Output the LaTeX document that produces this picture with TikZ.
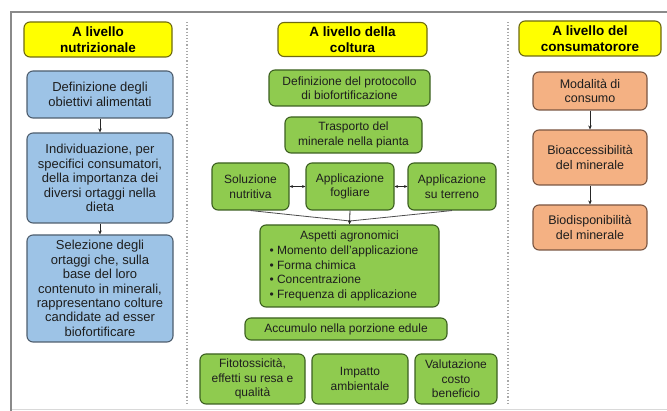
\documentclass[tikz,border=0pt]{standalone}
\usepackage{fontspec}
\setmainfont{Liberation Sans}
\usetikzlibrary{arrows.meta}
\definecolor{hdrfill}{HTML}{FFFF00}
\definecolor{hdrdraw}{HTML}{6E6A10}
\definecolor{bluefill}{HTML}{9DC3E6}
\definecolor{bluedraw}{HTML}{4E5E6E}
\definecolor{greenfill}{HTML}{8FCB4F}
\definecolor{greendraw}{HTML}{3C6020}
\definecolor{salmonfill}{HTML}{F4B183}
\definecolor{salmondraw}{HTML}{7A5642}
\definecolor{framegray}{HTML}{8A8A8A}
\definecolor{sepgray}{HTML}{A8A8A8}
\definecolor{txt}{HTML}{1E1E1E}
\tikzset{
  box/.style={draw, rounded corners=6pt, line width=1.1pt, align=center, inner sep=2pt, text=txt,
    font=\fontsize{12}{14.5}\selectfont},
  hdrbox/.style={box, fill=hdrfill, draw=hdrdraw, text=black, font=\bfseries\fontsize{13.5}{16.5}\selectfont},
  bluebox/.style={box, fill=bluefill, draw=bluedraw, font=\fontsize{13}{14.4}\selectfont},
  greenbox/.style={box, fill=greenfill, draw=greendraw},
  salmonbox/.style={box, fill=salmonfill, draw=salmondraw, font=\fontsize{12.5}{14.5}\selectfont},
  arr/.style={-{Stealth[length=4pt,width=3.5pt]}, line width=0.8pt, black!85},
  dblarr/.style={{Stealth[length=3.5pt,width=3pt]}-{Stealth[length=3.5pt,width=3pt]}, line width=1pt, black!85},
  conv/.style={line width=0.8pt, black!70},
  sepline/.style={sepgray, line width=1.2pt, dotted},
  framel/.style={framegray, line width=1.6pt}
}
\begin{document}
\begin{tikzpicture}[x=1pt,y=-1pt]
\useasboundingbox (0,0) rectangle (667,411);
% frame
\draw[framel] (667,12) -- (11,12) -- (11,411);
\draw[black!15, line width=0.8pt] (12,409) -- (667,409);
\draw[sepline] (187,22) -- (187,403);
\draw[sepline] (508,22) -- (508,403);

% headers
\node[hdrbox, minimum width=148pt, minimum height=35pt] (hl) at (98,39.5) {A livello\\nutrizionale};
\node[hdrbox, minimum width=149pt, minimum height=34pt] (hm) at (352.5,39.5) {A livello della\\coltura};
\node[hdrbox, minimum width=142pt, minimum height=35pt] (hr) at (590,38.5) {A livello del\\consumatorore};

% left column
\node[bluebox, minimum width=146pt, minimum height=47pt] (b1) at (100,94.5) {Definizione degli\\obiettivi alimentati};
\node[bluebox, minimum width=146pt, minimum height=90pt] (b2) at (100,178) {Individuazione, per\\specifici consumatori,\\della importanza dei\\diversi ortaggi nella\\dieta};
\node[bluebox, minimum width=146pt, minimum height=107pt] (b3) at (100,288.5) {Selezione degli\\ortaggi che, sulla\\base del loro\\contenuto in minerali,\\rappresentano colture\\candidate ad esser\\biofortificare};
\draw[arr] (b1) -- (b2);
\draw[arr] (b2) -- (b3);

% middle column
\node[greenbox, minimum width=161pt, minimum height=36pt] (g1) at (349.5,88) {Definizione del protocollo\\di biofortificazione};
\node[greenbox, minimum width=137pt, minimum height=36pt] (g2) at (353.5,135) {Trasporto del\\minerale nella pianta};
\node[greenbox, minimum width=77pt, minimum height=47pt] (g3) at (250.5,186.5) {Soluzione\\nutritiva};
\node[greenbox, minimum width=88pt, minimum height=47pt] (g4) at (350,186.5) {Applicazione\\fogliare};
\node[greenbox, minimum width=88pt, minimum height=47pt] (g5) at (452,186.5) {Applicazione\\su terreno};
\node[greenbox, minimum width=179pt, minimum height=82pt, align=left, font=\fontsize{12}{14.8}\selectfont] (g6) at (349.5,266)
  {\makebox[160pt][c]{Aspetti agronomici}\\\textbullet\ Momento dell'applicazione\\\textbullet\ Forma chimica\\\textbullet\ Concentrazione\\\textbullet\ Frequenza di applicazione};
\node[greenbox, minimum width=202pt, minimum height=22pt] (g7) at (346,329) {Accumulo nella porzione edule};
\node[greenbox, minimum width=105pt, minimum height=50pt] (g8) at (252.5,379) {Fitotossicità,\\effetti su resa e\\qualità};
\node[greenbox, minimum width=96pt, minimum height=50pt] (g9) at (360,379) {Impatto\\ambientale};
\node[greenbox, minimum width=82pt, minimum height=50pt] (g10) at (456,379) {Valutazione\\costo\\beneficio};
\draw[dblarr] (g3) -- (g4);
\draw[dblarr] (g4) -- (g5);
\coordinate (cv) at (350,221);
\draw[conv] (g3.south) -- (cv);
\draw[conv] (g5.south) -- (cv);
\draw[arr] (g4.south) -- (g6.north);

% right column
\node[salmonbox, minimum width=114pt, minimum height=38pt] (s1) at (590,91) {Modalità di\\consumo};
\node[salmonbox, minimum width=114pt, minimum height=55pt] (s2) at (590,157.5) {Bioaccessibilità\\del minerale};
\node[salmonbox, minimum width=114pt, minimum height=45pt] (s3) at (590,227.5) {Biodisponibilità\\del minerale};
\draw[arr] (s1) -- (s2);
\draw[arr] (s2) -- (s3);
\end{tikzpicture}
\end{document}
